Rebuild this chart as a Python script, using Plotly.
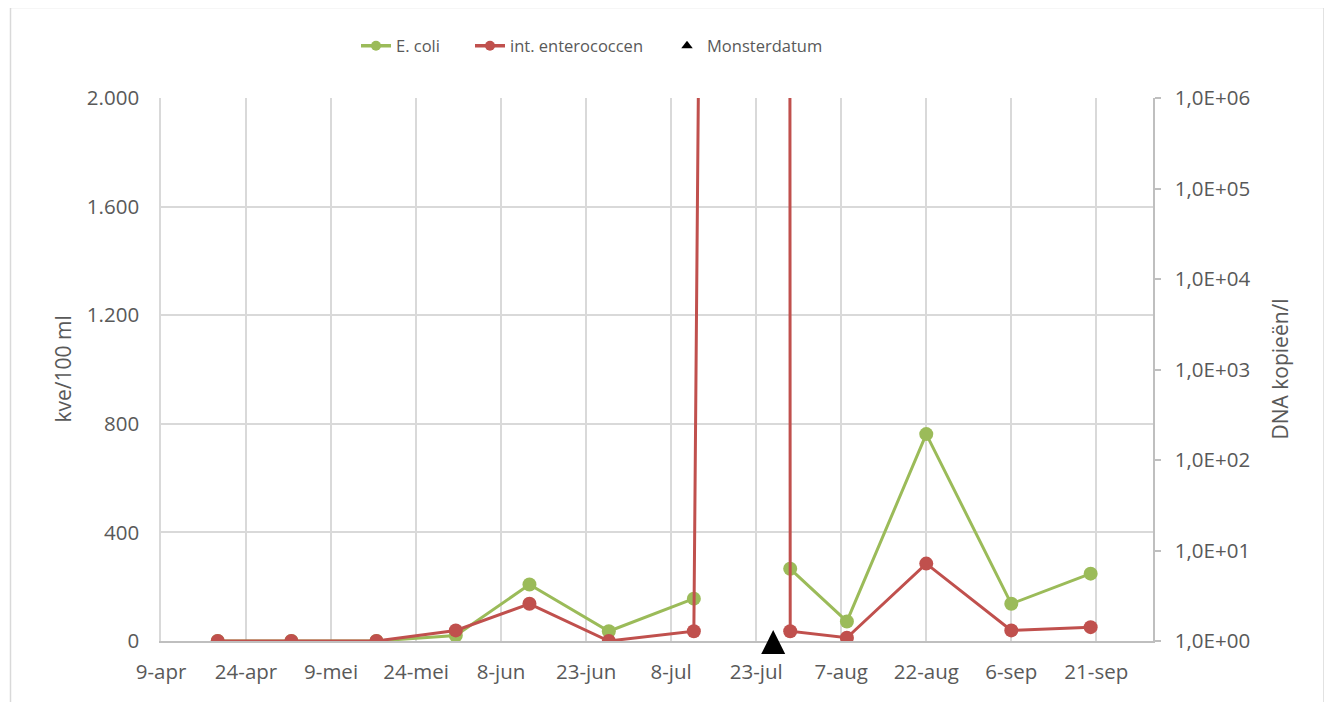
import plotly.graph_objects as go

# ---- data ----
sample_dates = ["2019-04-19", "2019-05-02", "2019-05-17", "2019-05-31", "2019-06-13",
                "2019-06-27", "2019-07-12", "2019-07-28", "2019-07-29", "2019-08-08",
                "2019-08-22", "2019-09-06", "2019-09-20"]
ecoli = [0, 0, 0, 20, 208, 36, 156, None, 266, 72, 762, 137, 248]
enterococcen = [0, 0, 0, 39, 137, 0, 36, 40000, 36, 12, 285, 39, 51]

monster_dates = ["2019-07-26"]
monster_values = [1]

x_tick_dates = ["2019-04-09", "2019-04-24", "2019-05-09", "2019-05-24", "2019-06-08",
                "2019-06-23", "2019-07-08", "2019-07-23", "2019-08-07", "2019-08-22",
                "2019-09-06", "2019-09-21"]
x_tick_labels = ["9-apr", "24-apr", "9-mei", "24-mei", "8-jun", "23-jun", "8-jul",
                 "23-jul", "7-aug", "22-aug", "6-sep", "21-sep"]
left_tick_values = [0, 400, 800, 1200, 1600, 2000]
left_tick_labels = ["0", "400", "800", "1.200", "1.600", "2.000"]
right_tick_values = [1, 10, 100, 1000, 10000, 100000, 1000000]
right_tick_labels = ["1,0E+00", "1,0E+01", "1,0E+02", "1,0E+03", "1,0E+04",
                     "1,0E+05", "1,0E+06"]

GREEN = "#9BBB59"
RED = "#C0504D"
TXT = "#595959"
GRID = "#d9d9d9"
AXIS = "#bfbfbf"
FONT = "Open Sans"

# page body adds an 8px margin around the figure
OFF = 8
W, H = 1332 - OFF, 702 - OFF

fig = go.Figure()

fig.add_trace(go.Scatter(x=sample_dates, y=ecoli, mode="lines+markers", name="E. coli",
                         line=dict(color=GREEN, width=3), marker=dict(color=GREEN, size=14),
                         connectgaps=False, showlegend=False))
fig.add_trace(go.Scatter(x=sample_dates, y=enterococcen, mode="lines+markers",
                         name="int. enterococcen",
                         line=dict(color=RED, width=3), marker=dict(color=RED, size=14),
                         connectgaps=False, showlegend=False))
fig.add_trace(go.Scatter(x=monster_dates, y=monster_values, mode="markers", name="Monsterdatum",
                         yaxis="y2", cliponaxis=False,
                         marker=dict(color="black", size=24, symbol="arrow-down", angle=180,
                                     standoff=11),
                         showlegend=False))

# legend entries
fig.add_trace(go.Scatter(x=[None], y=[None], mode="lines+markers", name="E. coli",
                         line=dict(color=GREEN, width=3.5), marker=dict(color=GREEN, size=10),
                         legend="legend"))
fig.add_trace(go.Scatter(x=[None], y=[None], mode="lines+markers", name="int. enterococcen",
                         line=dict(color=RED, width=3.5), marker=dict(color=RED, size=10),
                         legend="legend2"))
fig.add_trace(go.Scatter(x=[None], y=[None], mode="markers", name="Monsterdatum",
                         marker=dict(color="black", size=10, symbol="triangle-up"),
                         legend="legend3"))

# plot area in screen pixels
PX0, PX1 = 161.0, 1153.0
PY0, PY1 = 98.0, 641.0


def px_x(p):
    return (p - PX0) / (PX1 - PX0)


def px_y(p):
    return (PY1 - p) / (PY1 - PY0)


leg_common = dict(orientation="h", yanchor="middle", xanchor="left", y=px_y(46),
                  font=dict(family=FONT, size=16.5, color=TXT),
                  bgcolor="rgba(0,0,0,0)", borderwidth=0)

fig.update_layout(
    width=W, height=H,
    margin=dict(l=PX0 - OFF, r=1332 - PX1, t=PY0 - OFF, b=702 - PY1),
    paper_bgcolor="white", plot_bgcolor="white",
    font=dict(family=FONT, size=20.5, color=TXT),
    legend=dict(leg_common, x=px_x(356)),
    legend2=dict(leg_common, x=px_x(470)),
    legend3=dict(leg_common, x=px_x(667)),
    xaxis=dict(type="date", range=["2019-04-09", "2019-10-01"],
               tickvals=x_tick_dates, ticktext=x_tick_labels,
               showgrid=True, gridcolor=GRID, gridwidth=1.5,
               showline=True, linecolor=AXIS, linewidth=1.5, layer="below traces",
               ticks="", ticklabelstandoff=12, zeroline=False,
               tickfont=dict(size=20.5, color=TXT, family=FONT)),
    yaxis=dict(range=[0, 2000], tickvals=left_tick_values, ticktext=left_tick_labels,
               showgrid=True, gridcolor=GRID, gridwidth=1.5, zeroline=False,
               showline=True, linecolor=GRID, linewidth=1.5, layer="below traces",
               ticks="", ticklabelstandoff=16,
               tickfont=dict(size=20.5, color=TXT, family=FONT)),
    yaxis2=dict(type="log", range=[0, 6], overlaying="y", side="right",
                tickvals=right_tick_values, ticktext=right_tick_labels,
                showgrid=False, zeroline=False,
                showline=True, linecolor=AXIS, linewidth=1.5, layer="below traces",
                ticks="outside", ticklen=6, tickcolor=AXIS, tickwidth=1.5,
                ticklabelstandoff=10,
                tickfont=dict(size=20.5, color=TXT, family=FONT)),
    annotations=[
        dict(text="kve/100 ml", textangle=-90, xref="paper", yref="paper",
             x=px_x(62), y=0.5, xanchor="center", yanchor="middle", showarrow=False,
             font=dict(family=FONT, size=21, color=TXT)),
        dict(text="DNA kopieën/l", textangle=-90, xref="paper", yref="paper",
             x=px_x(1279), y=0.5, xanchor="center", yanchor="middle", showarrow=False,
             font=dict(family=FONT, size=21, color=TXT)),
    ],
    shapes=[
        dict(type="rect", xref="paper", yref="paper",
             x0=px_x(10.5), x1=px_x(1324), y0=px_y(712), y1=px_y(7.5),
             line=dict(color=GRID, width=1.5), fillcolor="rgba(0,0,0,0)", layer="below"),
    ],
)

fig.write_html("out.html")
